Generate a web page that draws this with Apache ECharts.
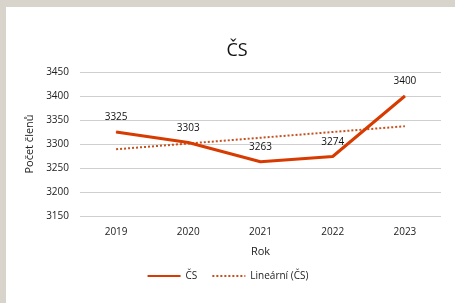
<!DOCTYPE html>
<html>
<head>
<meta charset="utf-8">
<script src="https://cdn.jsdelivr.net/npm/echarts@6/dist/echarts.min.js"></script>
<style>
    html, body { margin: 0; padding: 0; }
    body { width: 455px; height: 303px; background: #d8d4cc; position: relative; overflow: hidden; }
    #panel { position: absolute; left: 6px; top: 7px; width: 449px; height: 296px; background: #fff; }
    #main { position: absolute; left: 0; top: 0; width: 455px; height: 303px; }
</style>
</head>
<body>
<div id="panel"></div>
<div id="main"></div>
<script>
// data
var roky = ['2019', '2020', '2021', '2022', '2023'];
var clenove = [3325, 3303, 3263, 3274, 3400];
// trend line, endpoints
var trend = [3289, null, null, null, 3337];

var myChart = echarts.init(document.getElementById('main'));

var font = 'Open Sans';
var option = {
    title: {
        text: 'ČS',
        left: 232,
        top: 37,
        textAlign: 'center',
        textStyle: { fontFamily: font, fontSize: 18, fontWeight: 'normal', color: '#111' }
    },
    legend: {
        bottom: 17,
        left: 'center',
        itemWidth: 33,
        itemHeight: 10,
        itemGap: 14,
        itemStyle: { opacity: 0 },
        textStyle: { fontFamily: font, fontSize: 10, color: '#222' },
        data: ['ČS', 'Lineární (ČS)']
    },
    grid: { left: 80, right: 14, top: 72, bottom: 87 },
    xAxis: {
        type: 'category',
        data: roky,
        name: 'Rok',
        nameLocation: 'middle',
        nameGap: 30,
        nameTextStyle: { fontFamily: font, fontSize: 11, color: '#222' },
        axisLine: { show: false },
        axisTick: { show: false },
        axisLabel: { fontFamily: font, fontSize: 10, color: '#222', margin: 11 }
    },
    yAxis: {
        type: 'value',
        min: 3150,
        max: 3450,
        interval: 50,
        name: 'Počet členů',
        nameLocation: 'middle',
        nameGap: 42,
        nameTextStyle: { fontFamily: font, fontSize: 11, color: '#222' },
        axisLine: { show: false },
        axisTick: { show: false },
        axisLabel: {
            fontFamily: font, fontSize: 10, color: '#222', margin: 11,
            formatter: function (v) { return String(v); }
        },
        splitLine: { lineStyle: { color: '#cfcfcf', width: 1 } }
    },
    series: [
        {
            name: 'ČS',
            type: 'line',
            data: clenove,
            symbol: 'circle',
            symbolSize: 1,
            lineStyle: { color: '#d83b01', width: 3 },
            itemStyle: { color: '#d83b01' },
            label: {
                show: true,
                position: 'top',
                distance: 9,
                fontFamily: font,
                fontSize: 10,
                color: '#111'
            },
            z: 3
        },
        {
            name: 'Lineární (ČS)',
            type: 'line',
            data: trend,
            connectNulls: true,
            symbol: 'none',
            lineStyle: { color: '#c4501e', width: 2, type: 'dotted' },
            itemStyle: { color: '#c4501e' },
            z: 2
        }
    ]
};
myChart.setOption(option);
</script>
</body>
</html>
